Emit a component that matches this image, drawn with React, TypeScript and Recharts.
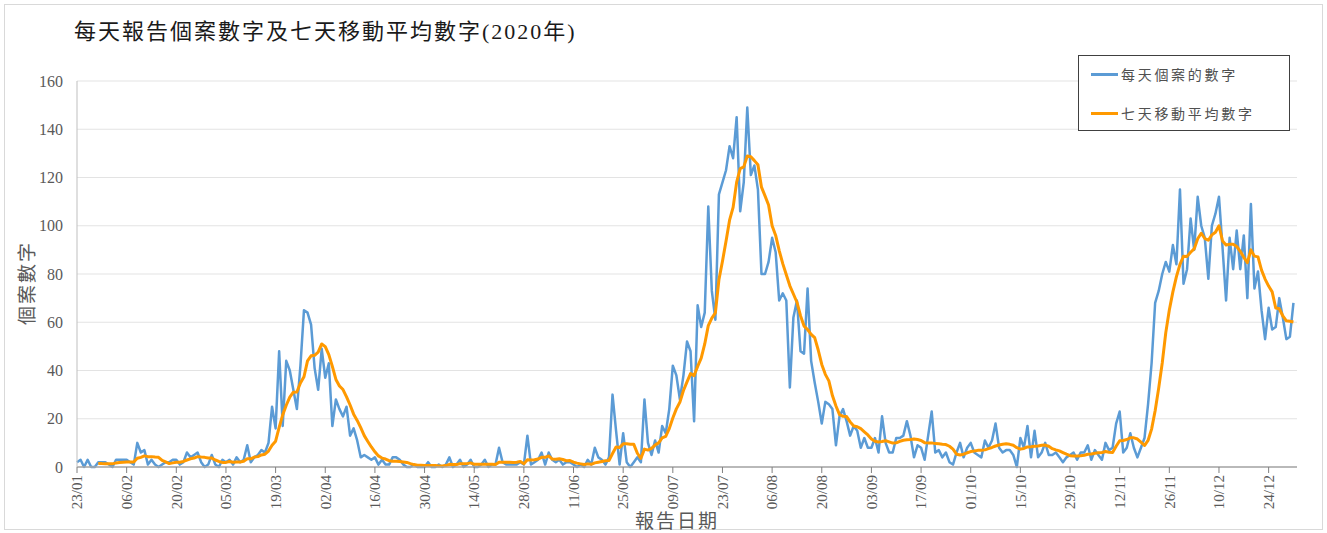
import React from 'react';
import { LineChart, Line, XAxis, YAxis, CartesianGrid, Legend, Label } from 'recharts';

const SERIF = "'Liberation Serif', 'Noto Sans CJK TC', serif";

// x-axis labels, one every 14 days starting 23/01
const tickLabels = [
  '23/01', '06/02', '20/02', '05/03', '19/03', '02/04', '16/04', '30/04', '14/05',
  '28/05', '11/06', '25/06', '09/07', '23/07', '06/08', '20/08', '03/09', '17/09',
  '01/10', '15/10', '29/10', '12/11', '26/11', '10/12', '24/12',
];

const yTicks = [0, 20, 40, 60, 80, 100, 120, 140, 160];

// daily reported cases, 23/01 .. 31/12 (one row per month)
const dailyCases = [
  2, 3, 0, 3, 0, 0, 2, 2, 2,
  1, 0, 3, 3, 3, 3, 2, 1, 10, 6, 7, 1, 3, 1, 0, 1, 2, 2, 3, 3, 1, 2, 6, 4, 5, 6, 2, 0, 1,
  5, 1, 0, 3, 2, 3, 1, 4, 2, 3, 9, 2, 4, 5, 7, 6, 10, 25, 16, 48, 17, 44, 40, 32, 24, 42, 65, 64, 59, 41, 32,
  49, 37, 43, 17, 28, 24, 21, 25, 13, 16, 11, 4, 5, 4, 3, 4, 1, 3, 1, 1, 4, 4, 3, 1, 0, 0, 1, 0, 0, 0,
  2, 0, 0, 1, 0, 1, 4, 0, 1, 3, 0, 1, 3, 0, 0, 1, 3, 0, 1, 1, 8, 2, 1, 1, 1, 1, 2, 1, 13, 1, 2,
  3, 6, 1, 6, 3, 2, 3, 1, 2, 2, 1, 0, 1, 0, 3, 1, 8, 4, 3, 1, 4, 30, 15, 1, 14, 2, 0, 2, 4, 2,
  28, 10, 5, 11, 6, 17, 14, 24, 42, 38, 28, 38, 52, 48, 19, 67, 58, 64, 108, 73, 61, 113, 118, 123, 133, 128, 145, 106, 118, 149, 121,
  125, 115, 80, 80, 85, 95, 89, 69, 72, 69, 33, 62, 69, 48, 47, 74, 44, 35, 27, 18, 27, 26, 24, 9, 21, 24, 19, 13, 17, 15, 8,
  12, 8, 8, 12, 6, 21, 10, 6, 6, 12, 12, 13, 19, 13, 4, 9, 8, 3, 13, 23, 6, 7, 4, 6, 2, 1, 6, 10, 4, 8,
  10, 6, 5, 4, 11, 8, 11, 18, 8, 6, 7, 7, 5, 0, 12, 8, 17, 4, 15, 4, 6, 10, 5, 5, 6, 4, 2, 4, 5, 6, 3,
  6, 6, 9, 3, 7, 5, 3, 10, 7, 8, 18, 23, 6, 8, 14, 8, 4, 8, 12, 26, 43, 68, 73, 80, 85, 81, 92, 84, 115, 76,
  82, 103, 90, 112, 100, 95, 78, 100, 105, 112, 91, 69, 95, 82, 98, 82, 96, 70, 109, 74, 81, 65, 53, 66, 57, 58, 70, 62, 53, 54, 68,
];

// seven-day moving average as drawn (starts on 29/01)
const movingAvg = [
  null, null, null, null, null, null, 1.4, 1.4, 1.3,
  1.3, 1.3, 1.7, 1.9, 2.0, 2.1, 2.1, 2.1, 3.6, 4.0, 4.6, 4.3, 4.3, 4.1, 4.0, 2.7, 2.1, 1.4, 1.7, 2.0, 2.0, 2.3, 2.9, 3.4, 3.7, 4.3, 4.1, 4.0, 3.7,
  3.7, 2.9, 2.3, 1.9, 1.9, 2.3, 2.0, 2.1, 2.1, 2.4, 3.4, 3.4, 4.1, 4.3, 5.0, 5.3, 6.6, 9.0, 10.7, 16.4, 21.6, 25.6, 29.0, 31.0, 31.1, 34.8, 37.4, 44.0, 46.1, 46.3, 47.6,
  51.0, 49.9, 46.6, 41.7, 36.3, 33.6, 32.1, 29.1, 25.7, 21.9, 19.3, 16.3, 13.0, 10.6, 8.3, 6.3, 4.6, 3.7, 3.3, 2.6, 2.4, 2.4, 2.3, 2.1, 1.9, 1.4, 1.0, 0.7, 0.7, 0.6,
  0.6, 0.6, 0.6, 0.4, 0.4, 0.6, 1.1, 1.0, 1.0, 1.4, 1.3, 1.4, 1.7, 1.1, 1.1, 1.1, 1.1, 1.1, 1.1, 1.0, 2.0, 2.0, 2.0, 2.0, 1.9, 2.0, 2.3, 1.3, 3.0, 2.9, 3.0,
  3.3, 4.0, 4.0, 4.6, 3.3, 3.2, 3.4, 3.1, 2.6, 2.7, 2.0, 1.6, 1.3, 1.0, 1.3, 1.1, 1.7, 2.0, 2.3, 2.6, 2.7, 5.6, 8.3, 8.1, 9.6, 9.6, 9.4, 9.4, 5.7, 3.6,
  7.4, 7.0, 7.7, 9.1, 10.0, 12.1, 12.7, 15.9, 20.3, 24.1, 26.9, 31.7, 35.3, 38.7, 37.9, 41.7, 45.1, 51.0, 58.6, 61.7, 63.9, 77.6, 85.3, 93.6, 102.3, 107.6, 118.1, 123.7, 124.4, 128.9, 128.6,
  127.0, 125.3, 116.0, 112.4, 108.6, 100.0, 96.0, 89.7, 84.3, 79.7, 75.1, 71.7, 68.3, 62.7, 58.4, 57.0, 55.0, 53.6, 48.5, 42.5, 38.4, 35.7, 29.6, 25.3, 21.7, 21.0, 20.9, 18.7, 17.0, 16.7, 15.9,
  14.6, 13.3, 11.6, 10.7, 10.4, 10.6, 10.9, 10.4, 9.9, 10.0, 10.6, 11.1, 11.3, 11.4, 11.6, 11.4, 11.0, 10.1, 10.0, 10.0, 9.7, 9.6, 9.4, 9.3, 8.6, 7.4, 5.3, 5.0, 5.3, 5.9,
  6.4, 6.6, 6.9, 6.9, 7.1, 7.6, 8.1, 8.7, 9.1, 9.4, 9.6, 9.4, 9.0, 8.0, 7.4, 7.7, 8.3, 8.4, 8.6, 8.7, 9.0, 9.1, 8.6, 7.6, 7.1, 6.7, 6.0, 5.3, 4.7, 4.6, 4.6,
  4.7, 4.9, 5.3, 5.4, 5.7, 5.9, 6.0, 6.4, 6.1, 6.0, 8.6, 10.9, 11.0, 11.4, 12.1, 12.1, 11.6, 10.3, 8.9, 11.0, 15.7, 23.3, 32.7, 43.1, 55.7, 65.1, 72.6, 78.9, 84.0, 87.4,
  87.3, 89.0, 90.4, 94.6, 96.9, 94.7, 94.0, 96.2, 97.3, 100.0, 93.7, 92.0, 92.3, 92.3, 91.4, 89.4, 86.9, 84.7, 90.0, 87.4, 87.1, 81.6, 77.9, 75.0, 72.6, 65.9, 65.6, 62.6, 60.6, 60.4, 60.1,
];

const chartData = dailyCases.map((cases, i) => ({ day: i, cases, avg: movingAvg[i] }));
const tickDays = tickLabels.map((_, i) => i * 14);
const legendOrder = ['cases', 'avg'];

const DateTick = ({ x, y, payload }: any) => (
  <g transform={`translate(${x},${y})`}>
    <text
      transform="rotate(-90)"
      textAnchor="end"
      dy="0.35em"
      fill="#595959"
      fontSize={15}
      fontFamily={SERIF}
    >
      {tickLabels[Math.round(payload.value / 14)]}
    </text>
  </g>
);

const LegendBox = ({ payload }: any) => {
  const items = [...(payload || [])].sort(
    (a: any, b: any) => legendOrder.indexOf(a.dataKey) - legendOrder.indexOf(b.dataKey)
  );
  return (
    <div
      style={{
        position: 'relative',
        width: 212,
        height: 76,
        border: '1px solid #404040',
        background: '#fff',
        boxSizing: 'border-box',
      }}
    >
      {items.map((item: any, i: number) => (
        <div key={item.value} style={{ position: 'absolute', left: 12, top: 8 + i * 39, height: 20, display: 'flex', alignItems: 'center' }}>
          <span style={{ display: 'inline-block', width: 27, height: 3, background: item.color, marginRight: 3 }} />
          <span style={{ fontSize: 14, letterSpacing: 2.7, color: '#505050', fontFamily: SERIF, whiteSpace: 'nowrap' }}>
            {item.value}
          </span>
        </div>
      ))}
    </div>
  );
};

export default function App() {
  return (
    <div style={{ position: 'absolute', left: 0, top: 0, width: 1327, height: 533, background: '#fff', fontFamily: SERIF }}>
      <div
        style={{
          position: 'absolute',
          left: 4,
          top: 4,
          width: 1317,
          height: 524,
          border: '1px solid #d9d9d9',
        }}
      />
      <div
        style={{
          position: 'absolute',
          left: 74,
          top: 17,
          fontSize: 22,
          lineHeight: '30px',
          letterSpacing: 2,
          color: '#1a1a1a',
          whiteSpace: 'nowrap',
        }}
      >
        每天報告個案數字及七天移動平均數字(2020年)
      </div>
      <LineChart
        width={1327}
        height={533}
        data={chartData}
        margin={{ top: 81, right: 30, bottom: 16, left: 0 }}
      >
        <CartesianGrid horizontal vertical={false} stroke="#e3e3e3" />
        <XAxis
          dataKey="day"
          type="number"
          domain={[0, 344]}
          ticks={tickDays}
          interval={0}
          height={50}
          tick={<DateTick />}
          tickSize={6}
          axisLine={{ stroke: '#a6a6a6', strokeWidth: 1.5 }}
          tickLine={{ stroke: '#808080' }}
        >
          <Label
            content={() => (
              <text x={677} y={521} textAnchor="middle" dominantBaseline="central" fontSize={19} letterSpacing={2} fill="#595959" fontFamily={SERIF}>
                報告日期
              </text>
            )}
          />
        </XAxis>
        <YAxis
          type="number"
          domain={[0, 160]}
          ticks={yTicks}
          interval={0}
          width={77}
          tickLine={false}
          tickSize={0}
          tickMargin={14}
          axisLine={{ stroke: '#bfbfbf' }}
          tick={{ fill: '#595959', fontSize: 16, fontFamily: SERIF }}
        >
          <Label
            content={() => (
              <text
                x={27}
                y={283}
                transform="rotate(-90, 27, 283)"
                textAnchor="middle"
                dominantBaseline="central"
                fontSize={19}
                letterSpacing={2}
                fill="#595959"
                fontFamily={SERIF}
              >
                個案數字
              </text>
            )}
          />
        </YAxis>
        <Legend
          layout="horizontal"
          verticalAlign="middle"
          align="center"
          content={<LegendBox />}
          wrapperStyle={{ left: 1078, top: 55, width: 212, height: 76 }}
        />
        <Line
          type="linear"
          dataKey="cases"
          name="每天個案的數字"
          stroke="#5B9BD5"
          strokeWidth={2.5}
          strokeLinejoin="round"
          dot={false}
          activeDot={false}
          isAnimationActive={false}
        />
        <Line
          type="linear"
          dataKey="avg"
          name="七天移動平均數字"
          stroke="#FF9900"
          strokeWidth={3}
          strokeLinejoin="round"
          dot={false}
          activeDot={false}
          isAnimationActive={false}
        />
      </LineChart>
    </div>
  );
}
